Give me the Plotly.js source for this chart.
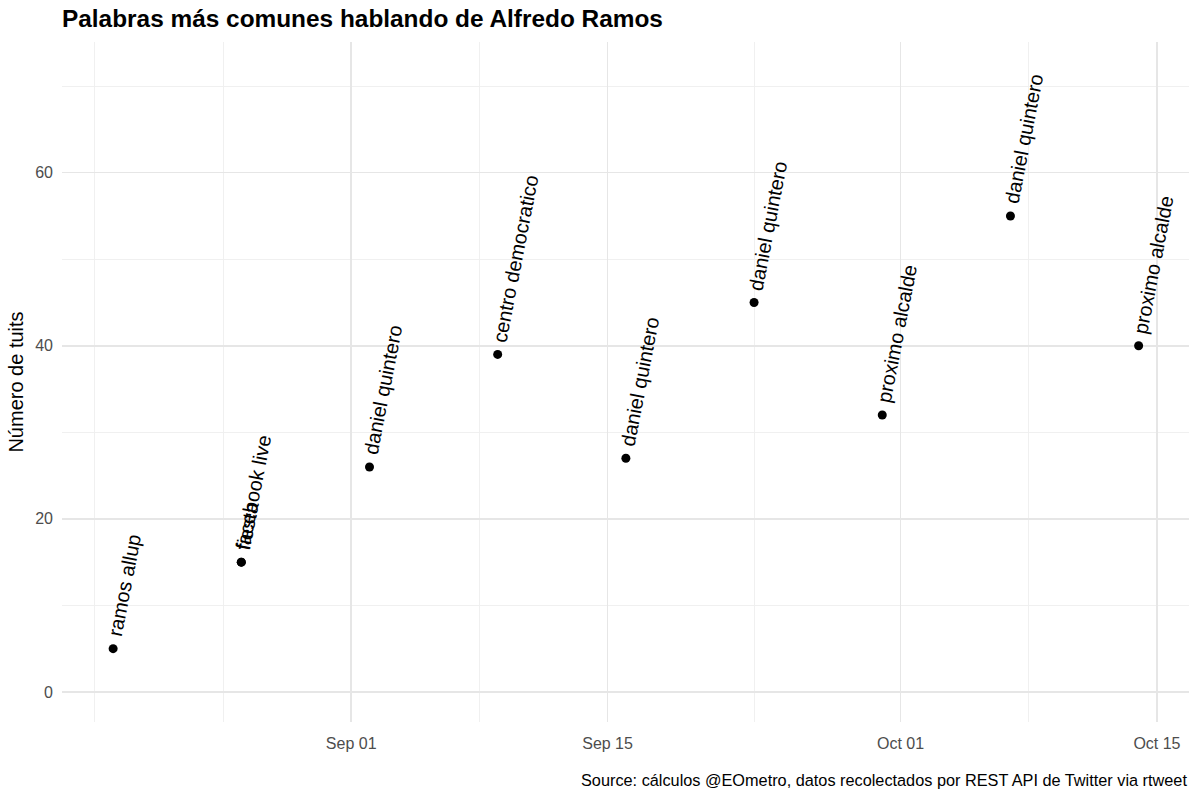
<!DOCTYPE html>
<html>
<head>
<meta charset="utf-8">
<script src="https://cdn.plot.ly/plotly-3.0.1.min.js"></script>
<style>html,body{margin:0;padding:0;background:#fff;}#chart{width:1200px;height:803px;}</style>
</head>
<body>
<div id="chart"></div>
<script>
const fechas = ['2019-08-19','2019-08-26','2019-08-26','2019-09-02','2019-09-09','2019-09-16','2019-09-23','2019-09-30','2019-10-07','2019-10-14'];
const palabras = ['ramos allup','facebook live','fiesta','daniel quintero','centro democratico','daniel quintero','daniel quintero','proximo alcalde','daniel quintero','proximo alcalde'];
const tuits = [5,15,15,26,39,27,45,32,55,40];
const xTickVals = ['2019-09-01','2019-09-15','2019-10-01','2019-10-15'];
const xTickText = ['Sep 01','Sep 15','Oct 01','Oct 15'];
const xMinorVals = ['2019-08-18','2019-08-25','2019-09-08','2019-09-23','2019-10-08'];
const yTickVals = [0,20,40,60];
const yMinorVals = [10,30,50,70];

const FONT = 'Liberation Sans, Arial, Helvetica, sans-serif';

const trace = {
  type: 'scatter', mode: 'markers',
  x: fechas, y: tuits,
  marker: {color: '#000', size: 9},
  hoverinfo: 'skip'
};

const annotations = palabras.map((w, i) => ({
  x: fechas[i], y: tuits[i], xref: 'x', yref: 'y',
  text: w, showarrow: false, textangle: -79,
  xanchor: 'left', yanchor: 'bottom', xshift: -12, yshift: 8,
  font: {family: FONT, size: 20, color: '#000'}
}));
annotations.push({
  xref: 'paper', yref: 'paper', x: 1, y: -0.085, xanchor: 'right', yanchor: 'middle',
  text: 'Source: cálculos @EOmetro, datos recolectados por REST API de Twitter via rtweet',
  showarrow: false, font: {family: FONT, size: 16.3, color: '#000'}
});

const layout = {
  width: 1200, height: 803,
  margin: {l: 62, r: 11, t: 42, b: 81},
  paper_bgcolor: '#fff', plot_bgcolor: '#fff',
  showlegend: false,
  font: {family: FONT},
  title: {text: '<b>Palabras más comunes hablando de Alfredo Ramos</b>', x: 0, xref: 'paper', xanchor: 'left', y: 0.977, yref: 'container', yanchor: 'middle', font: {family: FONT, size: 24.4, color: '#000'}},
  xaxis: {
    type: 'date', range: ['2019-08-16 05:00', '2019-10-16 18:00'],
    tickmode: 'array', tickvals: xTickVals, ticktext: xTickText,
    tickfont: {family: FONT, size: 16, color: '#4d4d4d'},
    showgrid: true, gridcolor: '#e6e6e6', gridwidth: 1.5,
    minor: {tickmode: 'array', tickvals: xMinorVals, showgrid: true, gridcolor: '#eeeeee', gridwidth: 0.9},
    zeroline: false, showline: false, ticks: '', ticklabelstandoff: 10, fixedrange: true
  },
  yaxis: {
    range: [-3.47, 75.1],
    tickmode: 'array', tickvals: yTickVals,
    tickfont: {family: FONT, size: 16, color: '#4d4d4d'},
    showgrid: true, gridcolor: '#e6e6e6', gridwidth: 1.5,
    minor: {tickmode: 'array', tickvals: yMinorVals, showgrid: true, gridcolor: '#eeeeee', gridwidth: 0.9},
    zeroline: false, showline: false, ticks: '', ticklabelstandoff: 8,
    title: {text: 'Número de tuits', font: {family: FONT, size: 20, color: '#000'}, standoff: 6}
  },
  annotations: annotations
};

Plotly.newPlot('chart', [trace], layout, {displayModeBar: false, staticPlot: true});
</script>
</body>
</html>
